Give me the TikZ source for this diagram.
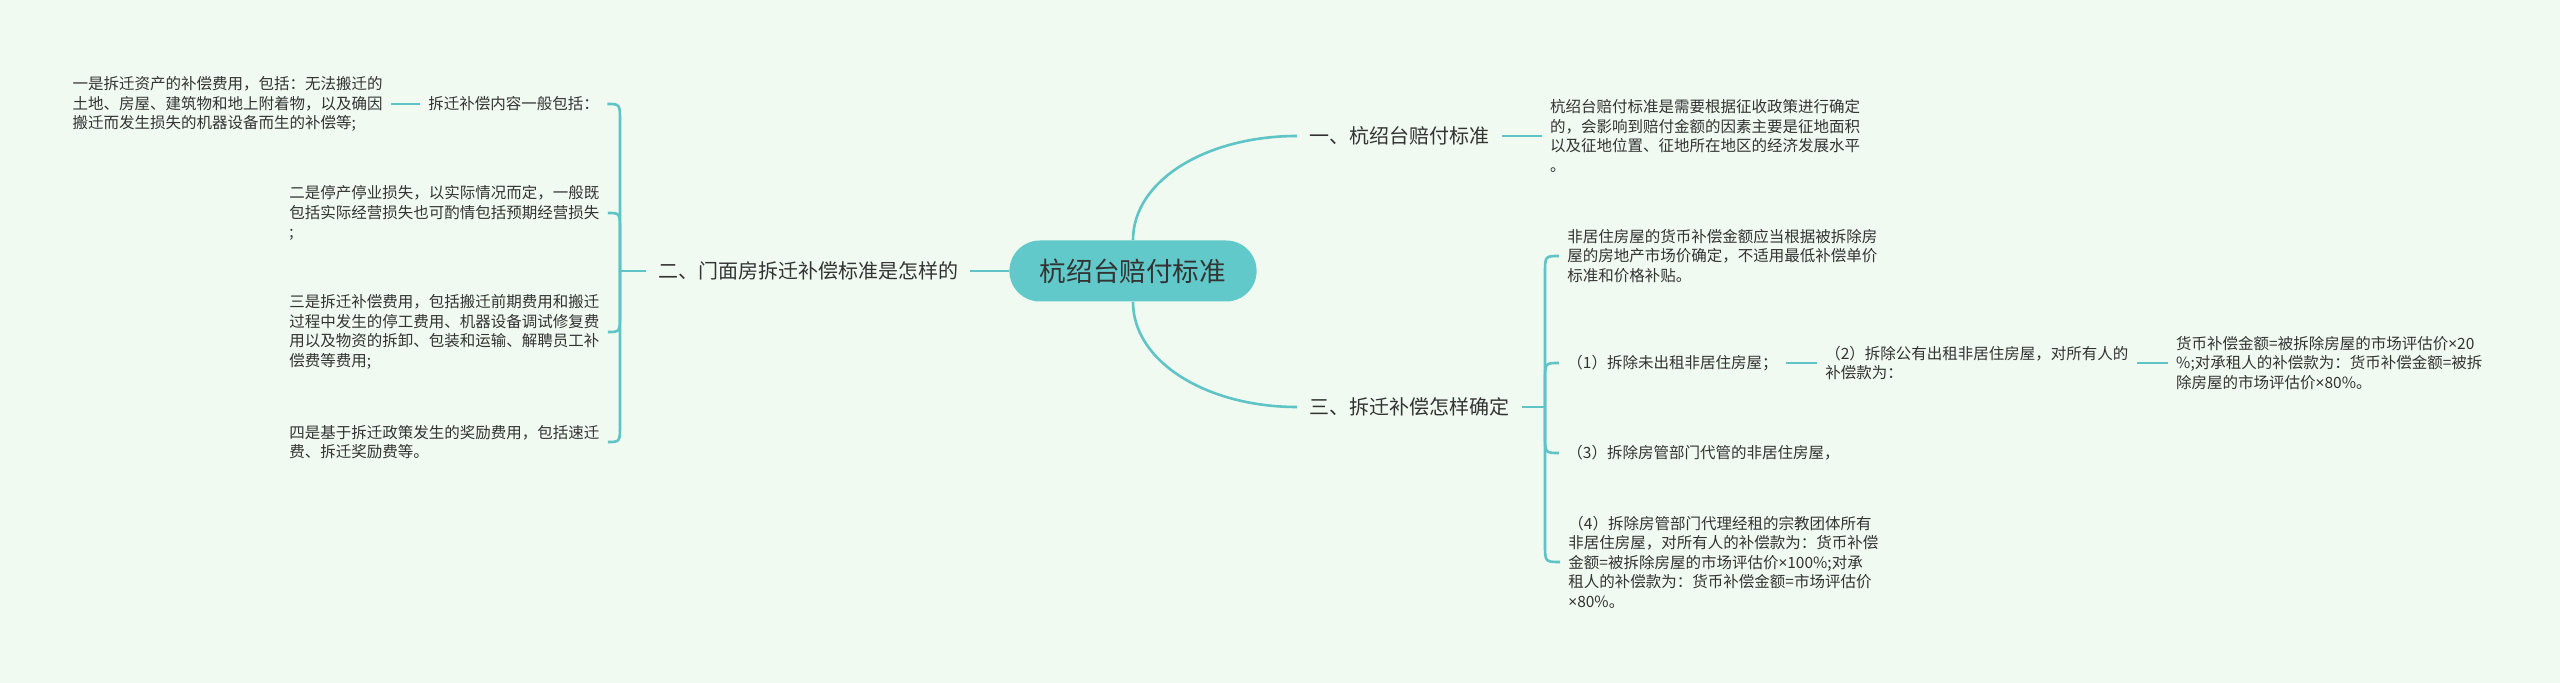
\documentclass[tikz,border=0pt]{standalone}
\usepackage{fontspec}
\newfontfamily\cjk{Noto Sans CJK SC}
\newfontfamily\latinsans{Noto Sans}
\usetikzlibrary{positioning,calc}
\definecolor{PaleBg}{RGB}{240,250,241}
\definecolor{TealLine}{RGB}{94,196,198}
\definecolor{TealFill}{RGB}{98,201,202}
\definecolor{InkText}{RGB}{51,51,51}
\newcommand{\timessign}{{\latinsans ×}}

\begin{document}
\begin{tikzpicture}[
    x=0.5pt, y=-0.5pt,
    every node/.style={font=\cjk, text=InkText},
    root/.style={fill=TealFill, rounded corners=15.25pt, minimum height=30.5pt, inner xsep=15.25pt,
        font=\cjk\fontsize{13.3pt}{16pt}\selectfont, text=black!80},
    branch/.style={anchor=west, inner xsep=6pt, font=\cjk\fontsize{10pt}{12pt}\selectfont},
    leaf/.style={anchor=west, align=left, inner xsep=4pt, inner ysep=1pt,
        font=\cjk\fontsize{7.75pt}{9.75pt}\selectfont},
    link/.style={draw=TealLine, line width=1.3pt},
]
\fill[PaleBg] (0,0) rectangle (2560,683);
\useasboundingbox (0,0) rectangle (2560,683);

\node[root] (root) at (1133,271) {杭绍台赔付标准};

\node[branch, anchor=center] (menmian) at (808,271) {二、门面房拆迁补偿标准是怎样的};
\node[branch] (biaozhun) at (1297,136) {一、杭绍台赔付标准};
\node[branch] (queding) at (1297,407) {三、拆迁补偿怎样确定};

\coordinate (jl) at (620,271);
\coordinate (jr) at (1545,407);

\node[leaf] (neirong) at (420,104) {拆迁补偿内容一般包括：};
\node[leaf, left=14.5pt of neirong] (zichan) {一是拆迁资产的补偿费用，包括：无法搬迁的\\土地、房屋、建筑物和地上附着物，以及确因\\搬迁而发生损失的机器设备而生的补偿等;};
\node[leaf] (tingchan) at (281,213) {二是停产停业损失，以实际情况而定，一般既\\包括实际经营损失也可酌情包括预期经营损失\\;};
\node[leaf] (feiyong) at (281,332) {三是拆迁补偿费用，包括搬迁前期费用和搬迁\\过程中发生的停工费用、机器设备调试修复费\\用以及物资的拆卸、包装和运输、解聘员工补\\偿费等费用;};
\node[leaf] (jiangli) at (281,442) {四是基于拆迁政策发生的奖励费用，包括速迁\\费、拆迁奖励费等。};

\node[leaf, right=20pt of biaozhun] (yiju) {杭绍台赔付标准是需要根据征收政策进行确定\\的，会影响到赔付金额的因素主要是征地面积\\以及征地位置、征地所在地区的经济发展水平\\。};

\node[leaf] (feijuzhu) at (1559,256) {非居住房屋的货币补偿金额应当根据被拆除房\\屋的房地产市场价确定，不适用最低补偿单价\\标准和价格补贴。};
\node[leaf] (weizu) at (1559,363) {（1）拆除未出租非居住房屋；};
\node[leaf, right=15.5pt of weizu] (gongyou) {（2）拆除公有出租非居住房屋，对所有人的\\补偿款为：};
\node[leaf, right=15.5pt of gongyou] (huobi) {货币补偿金额=被拆除房屋的市场评估价\timessign20\\\%;对承租人的补偿款为：货币补偿金额=被拆\\除房屋的市场评估价\timessign80\%。};
\node[leaf] (daiguan) at (1559,453) {（3）拆除房管部门代管的非居住房屋，};
\node[leaf] (jingzu) at (1560,562) {（4）拆除房管部门代理经租的宗教团体所有\\非居住房屋，对所有人的补偿款为：货币补偿\\金额=被拆除房屋的市场评估价\timessign100\%;对承\\租人的补偿款为：货币补偿金额=市场评估价\\\timessign80\%。};

\draw[link] (root.west) -- (menmian.east);
\draw[link] (root.north) .. controls ($(root.north)+(0,-60)$) and ($(biaozhun.west)+(-90,0)$) .. (biaozhun.west);
\draw[link] (root.south) .. controls ($(root.south)+(0,60)$) and ($(queding.west)+(-90,0)$) .. (queding.west);

\draw[link] (menmian.west) -- (jl);
\draw[link] (jl) -- ($(jl |- neirong.east)+(0,18)$) .. controls (jl |- neirong.east) .. (neirong.east);
\draw[link] (jl) -- ($(jl |- tingchan.east)+(0,18)$) .. controls (jl |- tingchan.east) .. (tingchan.east);
\draw[link] (jl) -- ($(jl |- feiyong.east)+(0,-18)$) .. controls (jl |- feiyong.east) .. (feiyong.east);
\draw[link] (jl) -- ($(jl |- jiangli.east)+(0,-18)$) .. controls (jl |- jiangli.east) .. (jiangli.east);
\draw[link] (neirong.west) -- (zichan.east);

\draw[link] (biaozhun.east) -- (yiju.west);

\draw[link] (queding.east) -- (jr);
\draw[link] (jr) -- ($(jr |- feijuzhu.west)+(0,18)$) .. controls (jr |- feijuzhu.west) .. (feijuzhu.west);
\draw[link] (jr) -- ($(jr |- weizu.west)+(0,18)$) .. controls (jr |- weizu.west) .. (weizu.west);
\draw[link] (jr) -- ($(jr |- daiguan.west)+(0,-18)$) .. controls (jr |- daiguan.west) .. (daiguan.west);
\draw[link] (jr) -- ($(jr |- jingzu.west)+(0,-18)$) .. controls (jr |- jingzu.west) .. (jingzu.west);
\draw[link] (weizu.east) -- (gongyou.west);
\draw[link] (gongyou.east) -- (huobi.west);
\end{tikzpicture}
\end{document}
